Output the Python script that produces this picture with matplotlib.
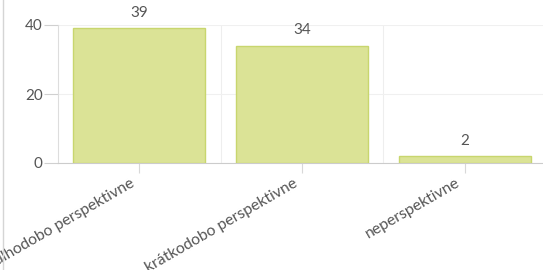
import matplotlib
matplotlib.use("Agg")
import matplotlib.pyplot as plt
from matplotlib.lines import Line2D

categories = ["dlhodobo perspektivne", "krátkodobo perspektivne", "neperspektivne"]
values = [39, 34, 2]
yticks = [0, 20, 40]

plt.rcParams['font.family'] = ['Lato', 'DejaVu Sans']

W, H = 543, 270
DPI = 100
fig = plt.figure(figsize=(W / DPI, H / DPI), dpi=DPI)
ax = fig.add_axes([58 / W, 107 / H, 488 / W, 138 / H])

x = list(range(len(categories)))
ax.bar(x, values, width=0.81, color="#dbe396", edgecolor="#c8d66e", linewidth=1, zorder=3)
for xi, v in zip(x, values):
    ax.annotate(str(v), (xi, v), xytext=(0, 6), textcoords="offset points",
                ha="center", va="bottom", fontsize=11, color="#555555",
                annotation_clip=False)

ax.set_xlim(-0.5, len(categories) - 0.5)
ax.set_ylim(0, 40)
ax.set_yticks(yticks)
ax.set_xticks(x)
ax.set_xticklabels([""] * len(categories))
for xi, cat in zip(x, categories):
    ax.annotate(cat, (xi, 0), xytext=(-9, -13), textcoords="offset pixels",
                rotation=30, rotation_mode="anchor", ha="right", va="top",
                fontsize=11.3, color="#555555", annotation_clip=False)

ax.tick_params(axis="y", labelsize=11, labelcolor="#555555", color="#d0d0d0",
               length=10, width=0.8, pad=1)
ax.tick_params(axis="x", color="#d8d8d8", length=7, width=0.8, pad=3)

ax.set_xticks([i + 0.5 for i in range(len(categories) - 1)], minor=True)
ax.grid(axis="x", which="minor", color="#eeeeee", linewidth=0.8, zorder=0)
ax.grid(axis="y", which="major", color="#f0f0f0", linewidth=0.8, zorder=0)
ax.tick_params(axis="x", which="minor", length=0)

for s in ["top", "right"]:
    ax.spines[s].set_visible(False)
ax.spines["left"].set_color("#dddddd")
ax.spines["bottom"].set_color("#cccccc")
ax.spines["left"].set_linewidth(0.8)
ax.spines["bottom"].set_linewidth(0.8)

fig.add_artist(Line2D([2.5 / W, 2.5 / W], [0, 1], color="#d5d5d5", linewidth=1))

fig.savefig("out.png", dpi=DPI)
